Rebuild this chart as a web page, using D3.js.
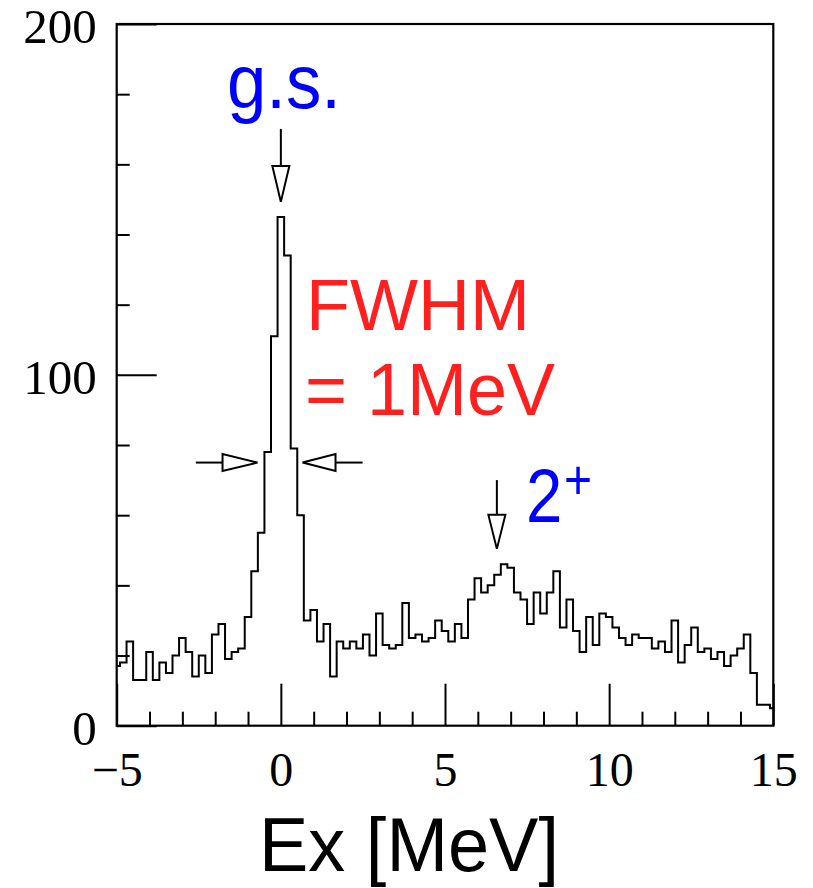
<!DOCTYPE html>
<html>
<head>
<meta charset="utf-8">
<script src="https://cdn.jsdelivr.net/npm/d3@7/dist/d3.min.js"></script>
<style>
  body { margin: 0; background: #fff; }
  .tick text { font-family: "Liberation Serif", "DejaVu Serif", serif; fill: #000; }
</style>
</head>
<body>
<div id="chart"></div>
<script>
// counts per 0.2 MeV bin, first bin centred on -5.0, last on 15.0
const counts = [
  17, 18, 24, 13, 13, 21, 13, 18, 15, 20,
  25, 21, 14, 20, 15, 26, 29, 19, 21, 22,
  31, 44, 55, 78, 111, 145, 134, 79, 60, 30,
  33, 24, 29, 14, 24, 22, 24, 22, 26, 20,
  32, 23, 22, 23, 35, 25, 26, 24, 25, 30,
  27, 24, 29, 25, 36, 42, 38, 40, 43, 46,
  45, 38, 36, 29, 38, 32, 38, 44, 28, 36,
  27, 21, 31, 23, 32, 31, 28, 25, 23, 26,
  25, 25, 22, 24, 21, 30, 18, 23, 28, 21,
  22, 19, 21, 17, 20, 22, 26, 15, 6, 6,
  5
];
const binStart = -5.1;
const binWidth = 0.2;

const xMajorTicks = [-5, 0, 5, 10, 15];
const xMinorTicks = [-4, -3, -2, -1, 1, 2, 3, 4, 6, 7, 8, 9, 11, 12, 13, 14];
const yMajorTicks = [0, 100, 200];
const yMinorTicks = [20, 40, 60, 80, 120, 140, 160, 180];

const gsLabel = "g.s.";
const fwhmLines = ["FWHM", "= 1MeV"];
const excitedLabel = "2";
const excitedSup = "+";
const xTitle = "Ex [MeV]";

const width = 813;
const height = 888;

const x = d3.scaleLinear().domain([-5, 15]).range([116.7, 773.3]);
const y = d3.scaleLinear().domain([0, 200]).range([725.7, 24]);

const svg = d3.select("#chart").append("svg")
  .attr("width", width)
  .attr("height", height);

// minor ticks
svg.append("g")
  .attr("transform", `translate(0,${y(0)})`)
  .call(d3.axisBottom(x).tickValues(xMinorTicks).tickSize(-14).tickFormat(""))
  .call(g => g.select(".domain").remove());
svg.append("g")
  .attr("transform", `translate(${x(-5)},0)`)
  .call(d3.axisLeft(y).tickValues(yMinorTicks).tickSize(-13).tickFormat(""))
  .call(g => g.select(".domain").remove());

// major ticks with labels
const xAxis = svg.append("g")
  .attr("transform", `translate(0,${y(0)})`)
  .call(d3.axisBottom(x).tickValues(xMajorTicks).tickSize(-42).tickPadding(26));
xAxis.select(".domain").remove();
xAxis.selectAll("text").attr("font-size", 48);

const yAxis = svg.append("g")
  .attr("transform", `translate(${x(-5)},0)`)
  .call(d3.axisLeft(y).tickValues(yMajorTicks).tickSize(-40).tickPadding(20));
yAxis.select(".domain").remove();
yAxis.selectAll("text").attr("font-size", 49).attr("dy", "0.38em");

svg.selectAll(".tick line").attr("stroke", "#000").attr("stroke-width", 2);

// frame
svg.append("rect")
  .attr("x", x(-5))
  .attr("y", y(200))
  .attr("width", x(15) - x(-5))
  .attr("height", y(0) - y(200))
  .attr("fill", "none")
  .attr("stroke", "#000")
  .attr("stroke-width", 2.2);

// histogram outline
const pts = counts.map((c, i) => [Math.max(-5, binStart + i * binWidth), c]);
pts.push([15, counts[counts.length - 1]]);

const line = d3.line()
  .x(d => x(d[0]))
  .y(d => y(d[1]))
  .curve(d3.curveStepAfter);

svg.append("path")
  .datum(pts)
  .attr("d", line)
  .attr("fill", "none")
  .attr("stroke", "#000")
  .attr("stroke-width", 2);

// open-headed arrows
function arrow(x1, y1, x2, y2, head) {
  const dx = x2 - x1, dy = y2 - y1;
  const len = Math.hypot(dx, dy);
  const ux = dx / len, uy = dy / len;
  const bx = x2 - ux * head, by = y2 - uy * head;
  const hw = 8.5;
  svg.append("line")
    .attr("x1", x1).attr("y1", y1).attr("x2", bx).attr("y2", by)
    .attr("stroke", "#000").attr("stroke-width", 2);
  svg.append("path")
    .attr("d", `M${x2},${y2}L${bx - uy * hw},${by + ux * hw}L${bx + uy * hw},${by - ux * hw}Z`)
    .attr("fill", "#fff")
    .attr("stroke", "#000")
    .attr("stroke-width", 2);
}

arrow(x(0), y(170.1), x(0), y(149.3), 36);
arrow(x(6.58), y(70), x(6.58), y(50.4), 34);
arrow(x(-2.59), y(75), x(-0.71), y(75), 35);
arrow(x(2.49), y(75), x(0.66), y(75), 33);

// annotations
const sans = "'Liberation Sans', Arial, Helvetica, sans-serif";

svg.append("text")
  .attr("x", 227).attr("y", 107.7)
  .attr("font-family", sans).attr("font-size", 76)
  .attr("textLength", 114).attr("lengthAdjust", "spacingAndGlyphs")
  .attr("fill", "#0000ff")
  .text(gsLabel);

svg.append("text")
  .attr("x", 306).attr("y", 330)
  .attr("font-family", sans).attr("font-size", 73)
  .attr("textLength", 224).attr("lengthAdjust", "spacingAndGlyphs")
  .attr("fill", "#fe1f1f")
  .text(fwhmLines[0]);

svg.append("text")
  .attr("x", 305).attr("y", 415)
  .attr("font-family", sans).attr("font-size", 74)
  .attr("textLength", 250).attr("lengthAdjust", "spacingAndGlyphs")
  .attr("fill", "#fe1f1f")
  .text(fwhmLines[1]);

// 2+ as one text with a raised plus
const ex = svg.append("text")
  .attr("transform", "translate(526,521.7) scale(0.86,1)")
  .attr("font-family", sans).attr("font-size", 76)
  .attr("fill", "#0000ff");
ex.append("tspan").text(excitedLabel);
ex.append("tspan")
  .attr("dx", 2).attr("dy", -23)
  .attr("font-size", 56)
  .text(excitedSup);

svg.append("text")
  .attr("x", 259).attr("y", 871)
  .attr("font-family", sans).attr("font-size", 76)
  .attr("textLength", 300).attr("lengthAdjust", "spacingAndGlyphs")
  .attr("fill", "#000")
  .text(xTitle);
</script>
</body>
</html>
